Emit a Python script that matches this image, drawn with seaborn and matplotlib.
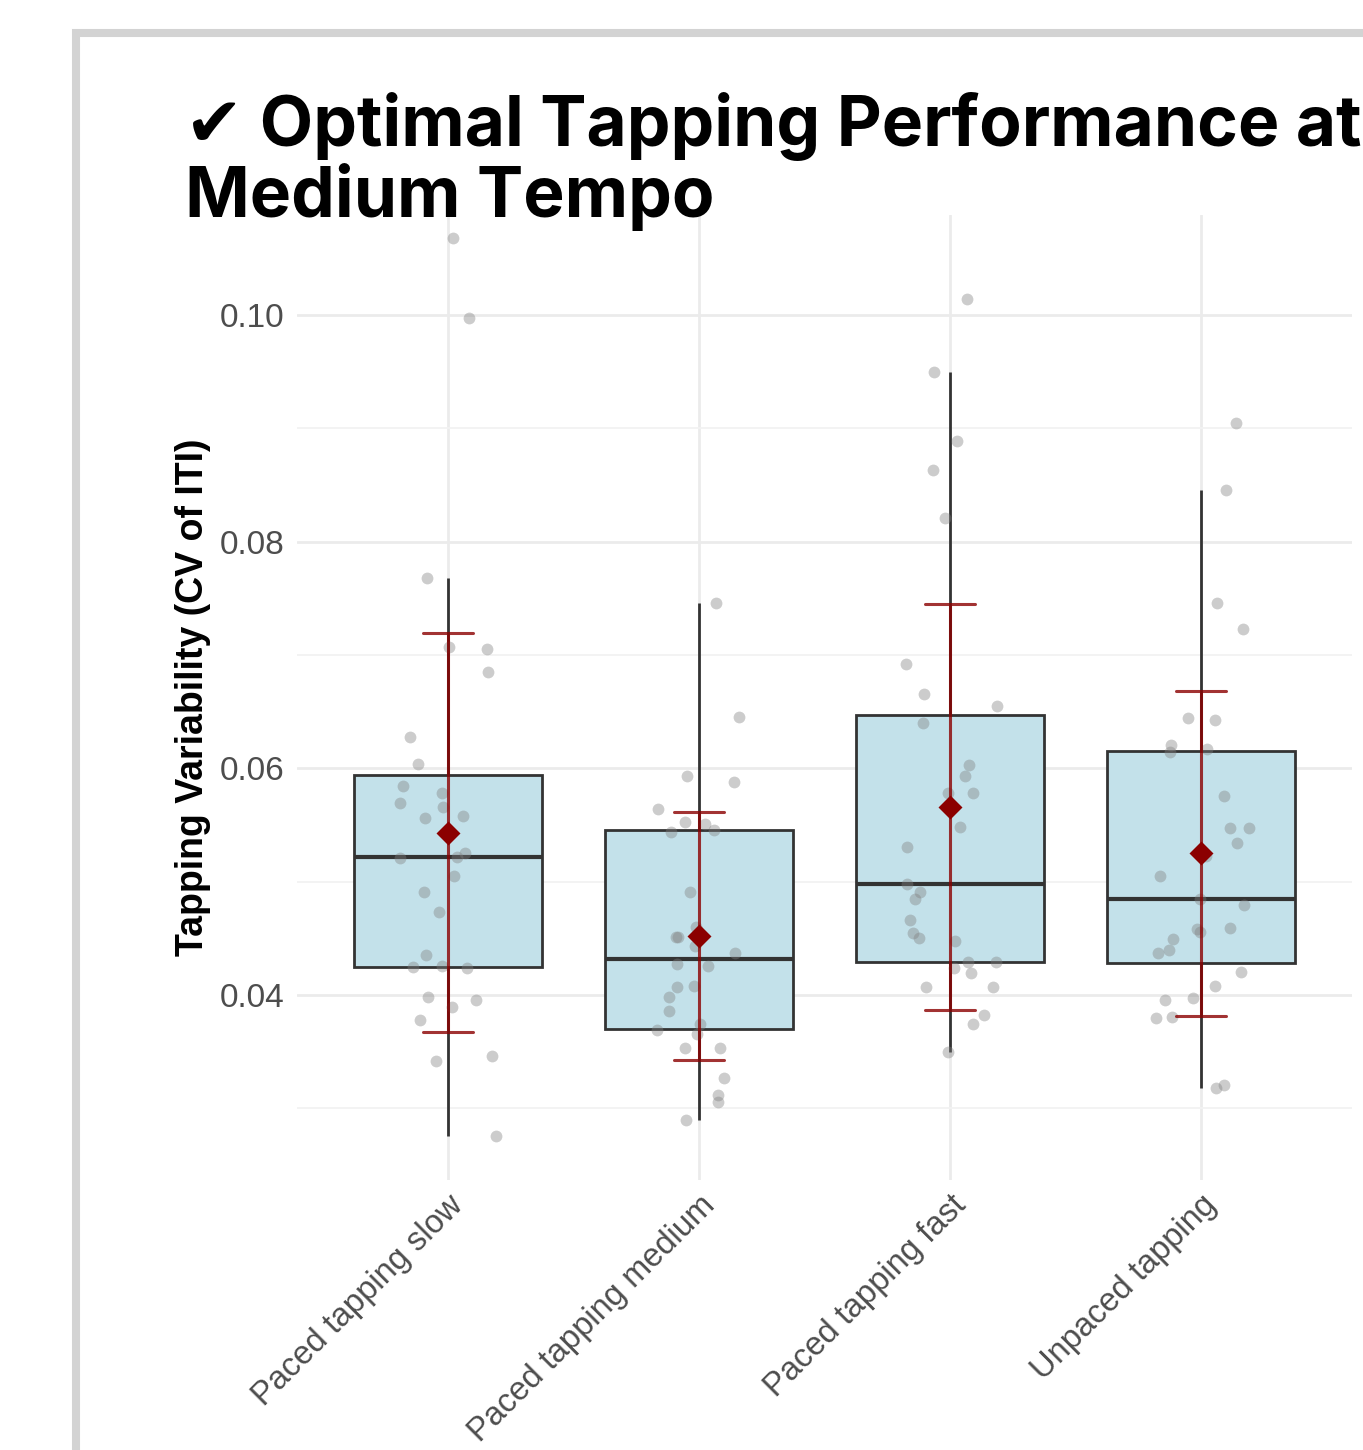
import numpy as np
import pandas as pd
import matplotlib
matplotlib.use("Agg")
import matplotlib.pyplot as plt
from matplotlib.patches import Rectangle
from matplotlib.ticker import MultipleLocator
import seaborn as sns

sns.set_theme(style="white")
plt.rcParams["font.family"] = ["Liberation Sans", "DejaVu Sans"]

# values (CV of inter-tap interval)
conditions = ["Paced tapping slow", "Paced tapping medium", "Paced tapping fast", "Unpaced tapping"]

slow_cv = [0.1068, 0.0997, 0.0768, 0.0707, 0.0705, 0.0685, 0.0628, 0.0604, 0.0584, 0.0578,
           0.0569, 0.0566, 0.0558, 0.0556, 0.0525, 0.0522, 0.0521, 0.0505, 0.0491, 0.0473,
           0.0435, 0.0424, 0.0426, 0.0425, 0.0389, 0.0396, 0.0398, 0.0378, 0.0342, 0.0346,
           0.0276]
medium_cv = [0.0746, 0.0645, 0.0588, 0.0593, 0.0564, 0.0546, 0.0551, 0.0553, 0.0544, 0.0491,
             0.0460, 0.0451, 0.0451, 0.0443, 0.0437, 0.0426, 0.0427, 0.0407, 0.0408, 0.0398,
             0.0386, 0.0374, 0.0369, 0.0366, 0.0353, 0.0353, 0.0327, 0.0312, 0.0306, 0.0290]
fast_cv = [0.1014, 0.0950, 0.0889, 0.0863, 0.0821, 0.0692, 0.0666, 0.0655, 0.0640, 0.0603,
           0.0593, 0.0578, 0.0578, 0.0548, 0.0531, 0.0498, 0.0491, 0.0485, 0.0466, 0.0455,
           0.0448, 0.0450, 0.0429, 0.0429, 0.0424, 0.0419, 0.0407, 0.0407, 0.0382, 0.0374,
           0.0350]
unpaced_cv = [0.0905, 0.0846, 0.0746, 0.0723, 0.0643, 0.0644, 0.0617, 0.0621, 0.0614, 0.0576,
              0.0547, 0.0547, 0.0534, 0.0523, 0.0505, 0.0485, 0.0479, 0.0459, 0.0456, 0.0458,
              0.0449, 0.0440, 0.0437, 0.0420, 0.0408, 0.0396, 0.0397, 0.0380, 0.0381, 0.0321,
              0.0318]

df = pd.DataFrame({
    "condition": np.repeat(conditions, [len(slow_cv), len(medium_cv), len(fast_cv), len(unpaced_cv)]),
    "cv": slow_cv + medium_cv + fast_cv + unpaced_cv,
})

W, H = 1363, 1450
fig = plt.figure(figsize=(W / 100, H / 100), dpi=100)

# card border
fig.patches.append(Rectangle((76 / W, -0.2), 2, 1.2 - 33 / H, transform=fig.transFigure,
                             facecolor="none", edgecolor="#d3d3d3", linewidth=5.8, zorder=-1))

ax = fig.add_axes([297 / W, 1 - 1180 / H, (1352 - 297) / W, (1180 - 215) / H])
ax.set_facecolor("none")

sns.boxplot(data=df, x="condition", y="cv", order=conditions, ax=ax,
            color="#c3e1ea", saturation=1, width=0.75, linecolor="#333333", linewidth=2,
            showfliers=False, showcaps=False, whis=1.5,
            medianprops={"linewidth": 3, "color": "#333333"}, zorder=2)

np.random.seed(3)
sns.stripplot(data=df, x="condition", y="cv", order=conditions, ax=ax,
              color="#808080", alpha=0.4, size=8.5, jitter=0.2, linewidth=0, zorder=3)

sns.pointplot(data=df, x="condition", y="cv", order=conditions, ax=ax,
              estimator="mean", errorbar="sd", color="#8b0000", markers="D",
              linestyle="none", markersize=10, capsize=0.2,
              err_kws={"linewidth": 2.2, "alpha": 0.8}, zorder=4)

ax.set_xlim(-0.6, 3.6)
ax.set_ylim(0.02368, 0.10882)
ax.yaxis.set_major_locator(MultipleLocator(0.02))
ax.yaxis.set_minor_locator(MultipleLocator(0.01))
ax.set_yticks([0.04, 0.06, 0.08, 0.10])
ax.set_yticklabels(["0.04", "0.06", "0.08", "0.10"])
ax.grid(axis="y", which="major", color="#ebebeb", linewidth=2)
ax.grid(axis="y", which="minor", color="#f2f2f2", linewidth=1.3)
ax.grid(axis="x", which="major", color="#ebebeb", linewidth=2)
ax.set_axisbelow(True)
for s in ax.spines.values():
    s.set_visible(False)
ax.tick_params(axis="both", which="both", length=0, labelcolor="#4d4d4d")
ax.tick_params(axis="y", pad=9, labelsize=24)
ax.tick_params(axis="x", pad=7, labelsize=23.5)
for lab in ax.get_xticklabels():
    lab.set_rotation(45)
    lab.set_ha("right")
    lab.set_va("top")
    lab.set_rotation_mode("anchor")

ax.set_xlabel("")
ax.set_ylabel("Tapping Variability (CV of ITI)", fontsize=27, fontweight="bold",
              color="black", labelpad=6)

fig.text(185 / W, 1 - 146 / H, "✔ Optimal Tapping Performance at", fontsize=50,
         fontweight="bold", family=["Inter", "DejaVu Sans"], va="baseline", ha="left",
         color="black")
fig.text(185 / W, 1 - 217 / H, "Medium Tempo", fontsize=50,
         fontweight="bold", family=["Inter", "DejaVu Sans"], va="baseline", ha="left",
         color="black")

fig.savefig("out.png", dpi=100)
